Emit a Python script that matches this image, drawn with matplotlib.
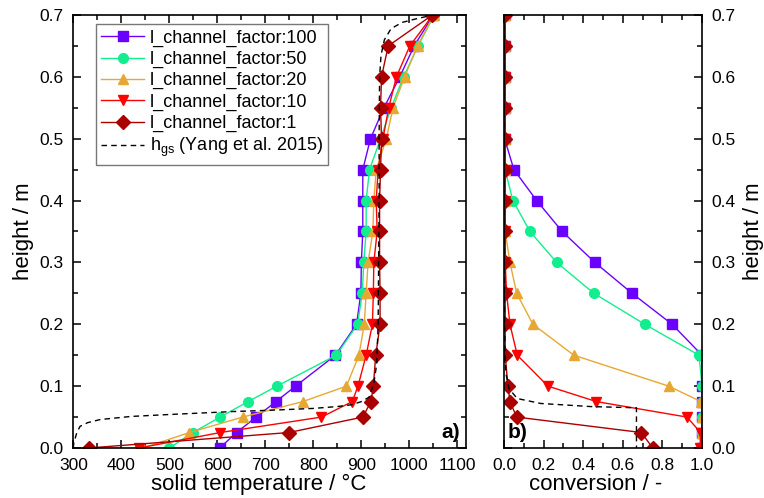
import matplotlib
matplotlib.use("Agg")
import matplotlib.pyplot as plt
from matplotlib.ticker import MultipleLocator

plt.rcParams['font.family'] = ['Liberation Sans', 'DejaVu Sans']
plt.rcParams['mathtext.fontset'] = 'custom'
plt.rcParams['mathtext.rm'] = 'Liberation Sans'
plt.rcParams['mathtext.it'] = 'Liberation Sans'

# ---- data ----
height = [0.0, 0.025, 0.05, 0.075, 0.1, 0.15, 0.2, 0.25, 0.3, 0.35,
          0.4, 0.45, 0.5, 0.55, 0.6, 0.65, 0.7]

labels = ["l_channel_factor:100", "l_channel_factor:50", "l_channel_factor:20",
          "l_channel_factor:10", "l_channel_factor:1"]

temp_f100 = [605, 640, 681, 722, 763, 846, 890, 899, 900, 903, 903, 903, 919, 947, 980, 1010, 1050]
temp_f50 = [500, 549, 606, 664, 724, 848, 892, 902, 905, 910, 910, 917, 940, 962, 988, 1018, 1052]
temp_f20 = [445, 542, 653, 778, 869, 895, 906, 910, 914, 924, 926, 931, 952, 966, 990, 1017, 1051]
temp_f10 = [437, 606, 817, 881, 893, 910, 923, 925, 926, 933, 931, 935, 945, 957, 973, 1001, 1049]
temp_f1 = [332, 749, 903, 920, 925, 930, 939, 939, 938, 938, 938, 940, 942, 940, 942, 956, 1048]

conv_f100 = [1.0, 1.0, 1.0, 1.0, 1.0, 1.0, 0.849, 0.647, 0.459, 0.294, 0.165, 0.05,
             0.003, 0.003, 0.003, 0.003, 0.003]
conv_f50 = [1.0, 1.0, 1.0, 1.0, 1.0, 0.985, 0.711, 0.454, 0.266, 0.131, 0.045, 0.005,
            0.003, 0.003, 0.003, 0.003, 0.003]
conv_f20 = [1.0, 1.0, 1.0, 0.995, 0.832, 0.353, 0.146, 0.064, 0.03, 0.006, 0.004, 0.004,
            0.004, 0.004, 0.004, 0.004, 0.004]
conv_f10 = [0.99, 0.993, 0.924, 0.467, 0.222, 0.067, 0.03, 0.013, 0.006, 0.005, 0.005,
            0.005, 0.005, 0.005, 0.005, 0.005, 0.005]
conv_f1 = [0.751, 0.694, 0.064, 0.03, 0.02, 0.006, 0.006, 0.006, 0.006, 0.006, 0.006,
           0.006, 0.006, 0.006, 0.006, 0.006, 0.006]

# h_gs reference (Yang et al. 2015)
ref_temp = [300, 301, 307, 314, 330, 356, 420, 496, 634, 710, 800, 850, 880, 900,
            916, 926, 932, 935, 936, 937, 937, 938, 941, 948, 962, 985, 1015, 1050]
ref_temp_h = [0.0, 0.008, 0.024, 0.035, 0.041, 0.046, 0.051, 0.054, 0.059, 0.061,
              0.064, 0.067, 0.070, 0.075, 0.082, 0.104, 0.136, 0.2, 0.3, 0.4, 0.5,
              0.6, 0.635, 0.66, 0.678, 0.688, 0.694, 0.7]
ref_conv = [0.0, 0.0, 0.005, 0.01, 0.025, 0.067, 0.185, 0.437, 0.669, 0.669]
ref_conv_h = [0.7, 0.3, 0.15, 0.12, 0.096, 0.08, 0.072, 0.067, 0.065, 0.0]

colors = ["#6a00ff", "#12ee8e", "#e6a832", "#ff0000", "#aa0000"]
markers = ["s", "o", "^", "v", "D"]
msizes = [6.5, 7, 7.5, 7.5, 7.5]

temps = [temp_f100, temp_f50, temp_f20, temp_f10, temp_f1]
convs = [conv_f100, conv_f50, conv_f20, conv_f10, conv_f1]

fig = plt.figure(figsize=(7.64, 4.98), dpi=100)
W, H = 764, 498
ax1 = fig.add_axes([73.3 / W, 1 - 448 / H, (466 - 73.3) / W, (448 - 15) / H])
ax2 = fig.add_axes([504 / W, 1 - 448 / H, (702 - 504) / W, (448 - 15) / H])

for t, c, col, m, ms, lab in zip(temps, convs, colors, markers, msizes, labels):
    ax1.plot(t, height, color=col, marker=m, ms=ms, lw=1.0, mec=col, mfc=col, label=lab)
    ax2.plot(c, height, color=col, marker=m, ms=ms, lw=1.0, mec=col, mfc=col)

ax1.plot(ref_temp, ref_temp_h, color="black", ls=(0, (4, 3)), lw=1.0,
         label=r"h$_{\mathregular{gs}}$ (Yang et al. 2015)")
ax2.plot(ref_conv, ref_conv_h, color="black", ls=(0, (4, 3)), lw=1.0)

ax1.set_xlim(300, 1118)
ax1.set_ylim(0, 0.7)
ax2.set_xlim(0, 1.0)
ax2.set_ylim(0, 0.7)

ax1.xaxis.set_major_locator(MultipleLocator(100))
ax1.xaxis.set_minor_locator(MultipleLocator(50))
ax2.xaxis.set_major_locator(MultipleLocator(0.2))
ax2.xaxis.set_minor_locator(MultipleLocator(0.1))
for ax in (ax1, ax2):
    ax.yaxis.set_major_locator(MultipleLocator(0.1))
    ax.yaxis.set_minor_locator(MultipleLocator(0.05))
    ax.tick_params(which='both', direction='in', top=True, right=True,
                   width=1.1, labelsize=12.5, pad=7)
    ax.tick_params(which='major', length=5.5)
    ax.tick_params(which='minor', length=3.5)
    for s in ax.spines.values():
        s.set_linewidth(1.2)

ax1.xaxis.set_major_formatter(matplotlib.ticker.FuncFormatter(lambda v, p: f"{v:.0f}"))
ax1.yaxis.set_major_formatter(matplotlib.ticker.FuncFormatter(lambda v, p: f"{v:.1f}"))
ax2.xaxis.set_major_formatter(matplotlib.ticker.FuncFormatter(lambda v, p: f"{v:.1f}"))
ax2.yaxis.set_major_formatter(matplotlib.ticker.FuncFormatter(lambda v, p: f"{v:.1f}"))

ax2.tick_params(axis='y', which='both', labelleft=False, labelright=True)
ax2.yaxis.set_label_position('right')

ax1.set_xlabel("solid temperature / °C", fontsize=16, labelpad=1)
ax1.set_ylabel("height / m", fontsize=16, labelpad=4)
ax2.set_xlabel("conversion / -", fontsize=16, labelpad=1)
ax2.set_ylabel("height / m", fontsize=16, labelpad=5)
ax1.xaxis.label.set_x(0.473)
ax2.xaxis.label.set_x(0.465)

ax1.text(0.985, 0.015, "a)", transform=ax1.transAxes, ha='right', va='bottom',
         fontsize=15, fontweight='bold')
ax2.text(0.02, 0.015, "b)", transform=ax2.transAxes, ha='left', va='bottom',
         fontsize=15, fontweight='bold')

leg = ax1.legend(loc='upper left', bbox_to_anchor=(0.057, 0.979), borderaxespad=0,
                 fontsize=13, frameon=True, fancybox=False, handlelength=2.4,
                 handletextpad=0.3, labelspacing=0.23, borderpad=0.3)
leg.get_frame().set_edgecolor("#555555")
leg.get_frame().set_linewidth(1.0)

fig.savefig("out.png", dpi=100)
